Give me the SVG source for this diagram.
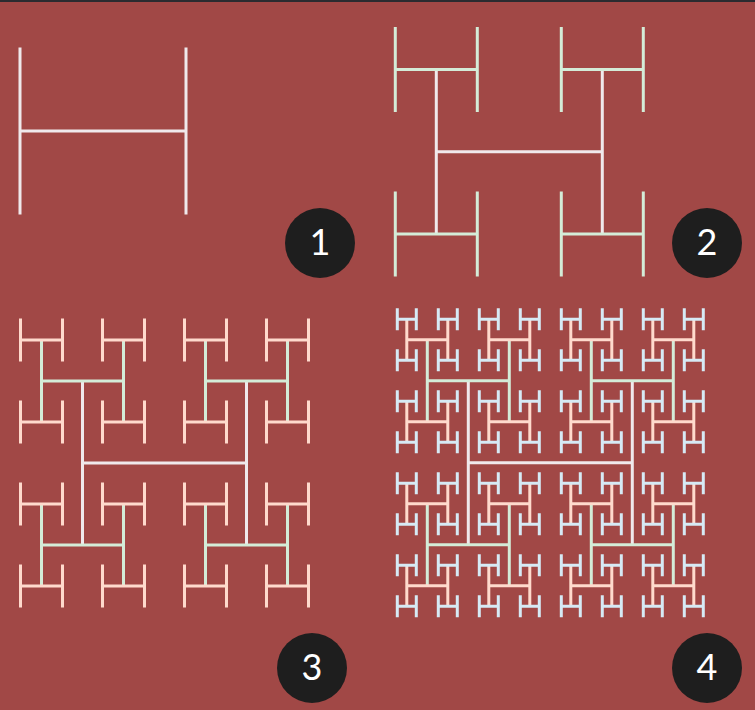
<svg xmlns="http://www.w3.org/2000/svg" width="755" height="710" viewBox="0 0 755 710">
<style>
.w{stroke:#F0E9EC}
.g{stroke:#D4ECD8}
.p{stroke:#FFDACD}
.b{stroke:#D6EAF5}
.ln{fill:none;stroke-width:3}
.badge circle{fill:#1E1E1E}
.badge text{fill:#FFFFFF;font-family:Lato,"Open Sans","DejaVu Sans",sans-serif;font-size:36px;text-anchor:middle}
</style>
<defs>
<path id="a1" d="M-83,-83.5V83.5M83,-83.5V83.5M-83,0H83"/>
<path id="a2" d="M-83,-82.3V82.3M83,-82.3V82.3M-83,0H83"/>
<path id="b2" d="M-41,-42.5V42.5M41,-42.5V42.5M-41,0H41"/>
<path id="a" d="M-82,-82V82M82,-82V82M-82,0H82"/>
<path id="b" d="M-41,-41V41M41,-41V41M-41,0H41"/>
<path id="c3" d="M-21,-21.5V21.5M21,-21.5V21.5M-21,0H21"/>
<path id="c" d="M-20.5,-20.5V20.5M20.5,-20.5V20.5M-20.5,0H20.5"/>
<path id="d" d="M-9.5,-11V11M9.5,-11V11M-9.5,0H9.5"/>
<g id="r3">
<use href="#b" class="g"/>
<use href="#c3" class="p" x="-41" y="-41"/>
<use href="#c3" class="p" x="41" y="-41"/>
<use href="#c3" class="p" x="-41" y="41"/>
<use href="#c3" class="p" x="41" y="41"/>
</g>
<g id="q4">
<use href="#c" class="p"/>
<use href="#d" class="b" x="-20.5" y="-20.5"/>
<use href="#d" class="b" x="20.5" y="-20.5"/>
<use href="#d" class="b" x="-20.5" y="20.5"/>
<use href="#d" class="b" x="20.5" y="20.5"/>
</g>
<g id="q3">
<use href="#b" class="g"/>
<use href="#q4" x="-41" y="-41"/>
<use href="#q4" x="41" y="-41"/>
<use href="#q4" x="-41" y="41"/>
<use href="#q4" x="41" y="41"/>
</g>
</defs>
<rect width="755" height="710" fill="#A14846"/>
<rect width="755" height="2" fill="#2B2B30"/>
<g id="panel1" class="ln">
<use href="#a1" class="w" x="103" y="131"/>
</g>
<g id="panel2" class="ln">
<use href="#a2" class="w" x="519.3" y="151.7"/>
<use href="#b2" class="g" x="436.3" y="69.4"/>
<use href="#b2" class="g" x="602.3" y="69.4"/>
<use href="#b2" class="g" x="436.3" y="234"/>
<use href="#b2" class="g" x="602.3" y="234"/>
</g>
<g id="panel3" class="ln">
<use href="#a" class="w" x="164.5" y="463"/>
<use href="#r3" x="82.5" y="381"/>
<use href="#r3" x="246.5" y="381"/>
<use href="#r3" x="82.5" y="545"/>
<use href="#r3" x="246.5" y="545"/>
</g>
<g id="panel4" class="ln">
<use href="#a" class="w" x="550.3" y="462.8"/>
<use href="#q3" x="468.3" y="380.8"/>
<use href="#q3" x="632.3" y="380.8"/>
<use href="#q3" x="468.3" y="544.8"/>
<use href="#q3" x="632.3" y="544.8"/>
</g>
<g id="badge1" class="badge"><circle cx="320" cy="243" r="35"/><text x="320" y="255">1</text></g>
<g id="badge2" class="badge"><circle cx="707" cy="243" r="35"/><text x="707" y="255">2</text></g>
<g id="badge3" class="badge"><circle cx="312" cy="668" r="35"/><text x="312" y="680">3</text></g>
<g id="badge4" class="badge"><circle cx="707" cy="668" r="35"/><text x="707" y="680">4</text></g>
</svg>
